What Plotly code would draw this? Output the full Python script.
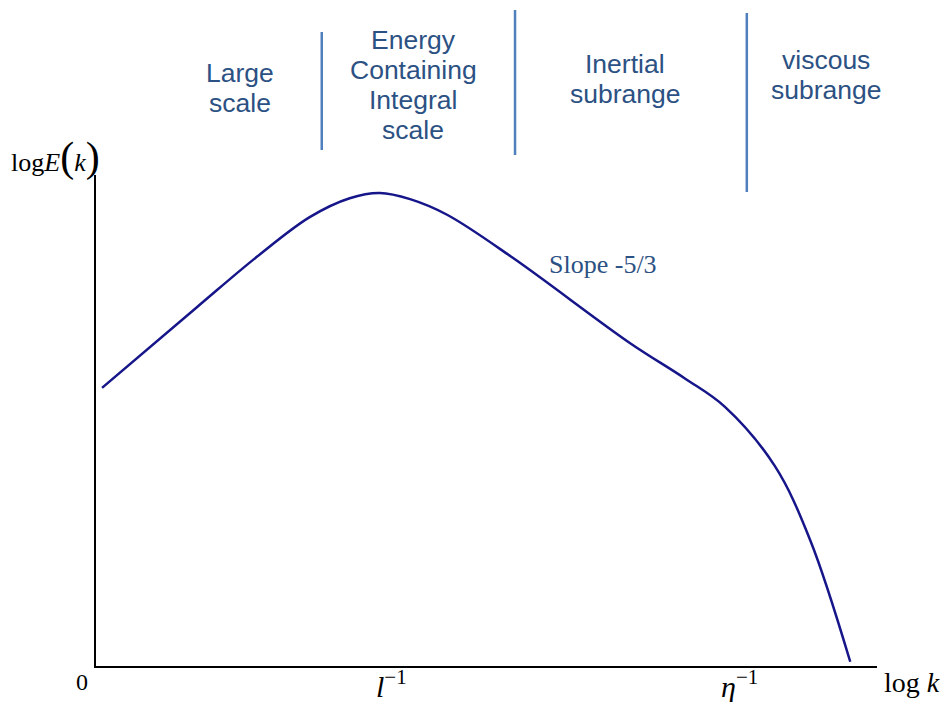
import plotly.graph_objects as go

# Energy spectrum curve: log k vs log E(k)
log_k = [0.08, 1.34, 2.13, 2.83, 3.36, 3.76, 4.16, 4.65, 5.52, 7.07, 7.80, 8.33, 8.99, 9.46, 9.99]
log_E = [5.88, 7.59, 8.65, 9.49, 9.89, 10.0, 9.87, 9.54, 8.63, 6.83, 6.08, 5.48, 4.23, 2.66, 0.09]

# Range names and their positions along log k
range_labels = ["Large<br>scale", "Energy<br>Containing<br>Integral<br>scale",
                "Inertial<br>subrange", "viscous<br>subrange"]
range_label_x = [1.91, 4.20, 7.01, 9.67]
divider_x = [2.99, 5.55, 8.62]

# Characteristic wavenumbers marked on the axis
mark_text = ["<i>l</i><sup>−1</sup>", "<i>η</i><sup>−1</sup>"]
mark_x = [3.92, 8.52]

LABEL_BLUE = "#2c5183"
LINE_BLUE = "#4f7fbc"
CURVE = "#16168a"
SERIF = "Liberation Serif, Times New Roman, serif"
SANS = "Liberation Sans, Arial, sans-serif"

fig = go.Figure()
fig.add_trace(go.Scatter(x=log_k, y=log_E, mode="lines",
                         line=dict(color=CURVE, width=2.5, shape="spline", smoothing=1.0),
                         hoverinfo="skip", showlegend=False))

W, H = 946, 702
ml, mr, mt, mb = 96, 69, 175, 36
x_max = (W - ml - mr) / 75.5
y_max = (H - mt - mb) / 47.3
plot_w = W - ml - mr
plot_h = H - mt - mb

def paper_x(px):
    return (px - ml) / plot_w

def paper_y(py):
    return (H - mb - py) / plot_h

def label(x, y, text, font, xref="paper", yref="paper"):
    fig.add_annotation(x=x, y=y, xref=xref, yref=yref, text=text, showarrow=False,
                       xanchor="center", yanchor="middle", align="center", font=font)

# Vertical dividers between ranges
divider_top = [32, 10, 13]
divider_bot = [150, 155, 192]
for xd, t, b in zip(divider_x, divider_top, divider_bot):
    fig.add_shape(type="line", xref="x", yref="paper", x0=xd, x1=xd,
                  y0=paper_y(b), y1=paper_y(t), line=dict(color=LINE_BLUE, width=2.5))

# Range names, one text per line with a fixed 30 px line pitch
range_label_py = [88, 85, 79, 75]
line_pitch = 30
for txt, xl, py in zip(range_labels, range_label_x, range_label_py):
    lines = txt.split("<br>")
    first = py - line_pitch * (len(lines) - 1) / 2
    for i, ln in enumerate(lines):
        label(xl, paper_y(first + i * line_pitch), ln,
              dict(family=SANS, size=26.5, color=LABEL_BLUE), xref="x")

label(6.72, 8.48, "Slope -5/3", dict(family=SERIF, size=26, color=LABEL_BLUE),
      xref="x", yref="y")

for txt, xm in zip(mark_text, mark_x):
    label(xm, paper_y(684), txt, dict(family=SERIF, size=30, color="black"), xref="x")

label(paper_x(82), paper_y(682), "0", dict(family=SERIF, size=24, color="black"))
label(paper_x(912), paper_y(682), "log <i>k</i>", dict(family=SERIF, size=28, color="black"))
label(paper_x(55), paper_y(157),
      'log<i>E</i><span style="font-size:42px">(</span><i>k</i><span style="font-size:42px">)</span>',
      dict(family=SERIF, size=26, color="black"))

fig.update_layout(
    width=W, height=H, margin=dict(l=ml, r=mr, t=mt, b=mb),
    plot_bgcolor="white", paper_bgcolor="white",
    xaxis=dict(range=[0, x_max], showline=True, linecolor="black", linewidth=2,
               showgrid=False, zeroline=False, showticklabels=False, ticks=""),
    yaxis=dict(range=[0, y_max], showline=True, linecolor="black", linewidth=2,
               showgrid=False, zeroline=False, showticklabels=False, ticks=""),
)

fig.write_html("out.html")
